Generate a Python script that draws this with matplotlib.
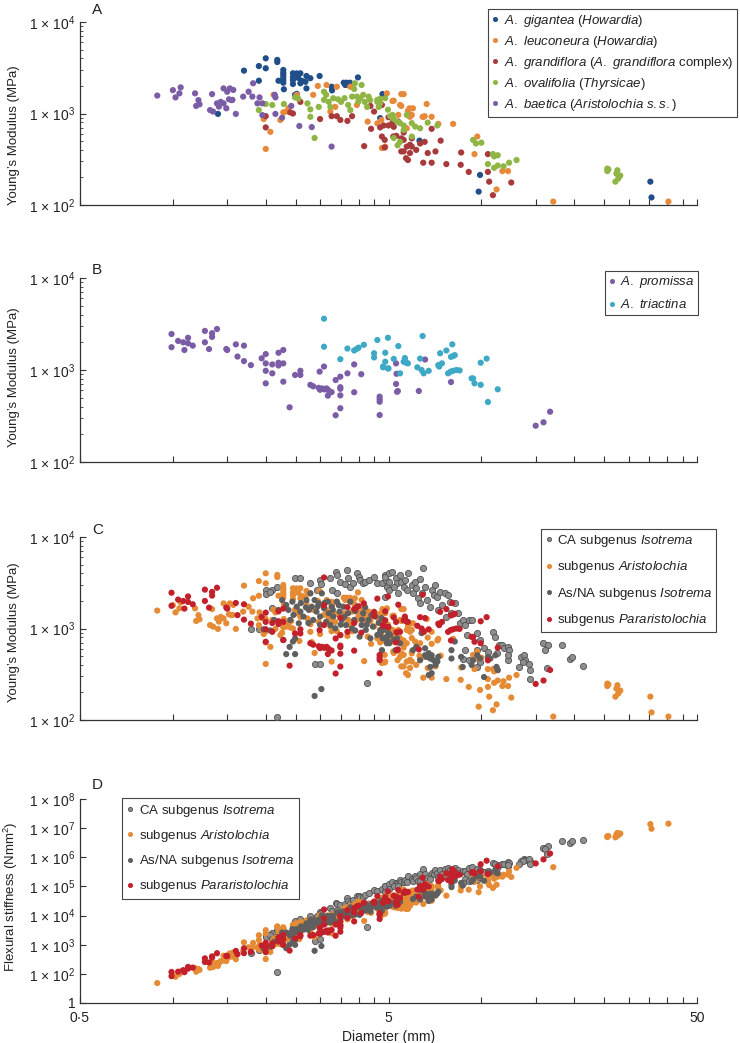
import numpy as np
import matplotlib
matplotlib.use('Agg')
import matplotlib.pyplot as plt
from matplotlib.lines import Line2D
from matplotlib.ticker import LogLocator, NullFormatter, NullLocator

plt.rcParams['font.family'] = ['Liberation Sans', 'DejaVu Sans']
plt.rcParams['mathtext.fontset'] = 'custom'
plt.rcParams['mathtext.rm'] = 'Liberation Sans'
plt.rcParams['mathtext.it'] = 'Liberation Sans:italic'

# (diameter mm, Young's modulus MPa)
gigantea = [(1.40, 990), (1.70, 2940), (1.90, 3300), (1.90, 2280), (2.0, 4010), (2.0, 3120),
            (2.18, 3850), (2.18, 3650), (2.20, 2280), (2.28, 2990), (2.28, 2790), (2.28, 2640),
            (2.28, 2480), (2.28, 2320), (2.28, 2170), (2.29, 1840), (2.45, 2750), (2.45, 2490),
            (2.45, 2320), (2.45, 2100), (2.52, 2740), (2.59, 2750), (2.59, 2140), (2.55, 2450),
            (2.62, 2270), (2.71, 2570), (2.69, 2220), (2.79, 2430), (2.71, 1880), (2.99, 2570),
            (2.49, 1600), (2.52, 1640), (3.27, 1960), (3.28, 1790), (3.58, 2170), (3.66, 2170),
            (3.75, 2170), (3.62, 2050), (3.70, 2050), (3.98, 2480), (4.78, 1630), (4.70, 890),
            (6.3, 505), (9.9, 213), (9.8, 140), (35.3, 180), (35.6, 121)]
leuconeura = [(2.0, 410), (2.07, 630), (1.97, 870), (2.12, 1600), (2.23, 850), (2.33, 1050),
              (2.37, 1140), (2.28, 1030), (2.52, 1600), (2.85, 1600), (2.95, 2000), (3.15, 2050),
              (3.40, 1960), (3.76, 1960), (3.36, 1180), (3.24, 1050), (3.95, 1240), (4.28, 815),
              (4.60, 780), (4.74, 850), (4.94, 1660), (5.15, 1370), (5.5, 1630), (5.6, 1630),
              (5.45, 1240), (5.38, 965), (5.78, 1070), (5.87, 920), (6.0, 1140), (6.5, 920),
              (6.65, 1270), (6.9, 920), (7.25, 770), (4.76, 420), (4.88, 435), (5.73, 690),
              (5.2, 1380), (5.5, 1210), (5.85, 1140), (5.8, 965), (5.95, 965), (6.45, 920),
              (6.55, 935), (8.1, 770), (9.7, 560), (9.5, 360), (11.7, 235), (12.2, 235),
              (11.2, 148), (17.1, 109), (40.4, 109)]
grandiflora = [(2.0, 705), (2.0, 935), (2.40, 1030), (2.59, 1340), (3.0, 870), (3.27, 935),
               (3.40, 935), (3.49, 850), (3.68, 830), (3.81, 935), (4.17, 440), (4.37, 1210),
               (4.49, 1050), (4.76, 1240), (4.39, 680), (4.82, 740), (4.76, 560), (4.86, 515),
               (4.86, 425), (5.0, 740), (5.2, 715), (5.38, 815), (5.6, 620), (5.6, 515),
               (5.6, 385), (5.78, 310), (5.87, 455), (5.95, 435), (6.15, 400), (5.95, 535),
               (6.48, 290), (6.9, 290), (7.7, 280), (7.38, 505), (7.1, 385), (6.9, 680),
               (6.55, 490), (4.7, 705), (5.0, 910), (5.15, 795), (5.18, 560), (5.3, 570),
               (5.5, 535), (5.73, 435), (6.33, 470), (5.87, 370), (8.6, 375), (8.57, 275),
               (9.1, 230), (10.5, 360), (10.5, 230), (10.6, 180), (10.9, 128), (12.5, 176),
               (5.70, 325), (5.5, 385), (6.7, 370), (2.45, 1000)]
ovalifolia = [(1.90, 1090), (2.0, 1270), (2.1, 1240), (2.29, 1270), (2.49, 1500), (2.55, 1450),
              (2.73, 1290), (2.79, 1110), (2.79, 920), (2.88, 540), (2.97, 1180), (3.09, 1730),
              (3.14, 1600), (3.2, 1340), (3.09, 1410), (3.24, 1180), (3.31, 1470), (3.43, 1430),
              (3.51, 1340), (3.6, 1470), (3.7, 1240), (3.76, 1090), (3.81, 1530), (3.89, 2140),
              (3.87, 1850), (3.95, 1530), (3.99, 1340), (4.05, 1470), (4.09, 2050), (4.14, 1600),
              (4.19, 1340), (4.26, 1180), (4.31, 1530), (4.36, 1400), (4.6, 1340), (4.65, 1180),
              (4.7, 1450), (4.88, 1470), (4.98, 1100), (5.06, 935), (5.2, 870), (5.33, 815),
              (5.45, 785), (5.6, 660), (5.73, 965), (5.95, 785), (6.1, 720), (5.2, 540),
              (5.45, 490), (5.35, 450), (5.95, 560), (6.33, 690), (6.7, 795), (7.2, 740),
              (4.6, 1410), (4.7, 1300), (5.15, 965), (5.6, 740), (9.4, 515), (9.6, 470),
              (10.0, 480), (10.5, 280), (10.9, 360), (11.0, 340), (11.3, 350), (11.0, 255),
              (11.3, 270), (11.8, 265), (12.3, 290), (13.0, 310), (25.6, 250), (25.6, 235),
              (25.8, 245), (27.6, 240), (27.4, 220), (28.2, 210), (27.8, 195), (27.2, 180)]
baetica = [(0.89, 1570), (1.0, 1800), (1.02, 1500), (1.06, 1930), (1.05, 1660), (1.18, 1660),
           (1.21, 1400), (1.19, 1210), (1.22, 1260), (1.34, 1630), (1.32, 1090), (1.35, 1050),
           (1.39, 1290), (1.41, 1190), (1.43, 1340), (1.46, 1880), (1.50, 1730), (1.57, 1810),
           (1.46, 1290), (1.49, 1140), (1.52, 1430), (1.55, 1400), (1.60, 990), (1.53, 1880),
           (1.56, 1410), (1.69, 1530), (1.76, 1730), (1.82, 2140), (1.81, 1530), (1.88, 1290),
           (1.91, 1500), (1.95, 1290), (1.95, 960), (2.14, 1600), (2.15, 1500), (2.15, 990),
           (2.26, 900), (2.42, 1210), (2.57, 730), (2.82, 710), (3.27, 435)]
promissa = [(0.99, 2460), (0.99, 1770), (1.04, 2070), (1.08, 2000), (1.09, 1650), (1.12, 2240),
            (1.12, 1950), (1.16, 1840), (1.27, 2660), (1.27, 2000), (1.34, 2510), (1.34, 2290),
            (1.31, 1690), (1.39, 2790), (1.49, 1690), (1.50, 1650), (1.60, 1900), (1.70, 1840),
            (1.62, 1400), (1.70, 1250), (1.79, 1130), (1.94, 1340), (2.0, 1490), (2.0, 1180),
            (2.0, 980), (2.0, 716), (2.1, 1150), (2.1, 920), (2.2, 1540), (2.2, 1200),
            (2.2, 1120), (2.28, 1650), (2.28, 1180), (2.28, 747), (2.39, 393), (2.49, 883),
            (2.59, 980), (2.59, 883), (2.79, 690), (2.85, 665), (2.97, 640), (3.0, 610),
            (3.05, 630), (3.1, 615), (3.15, 630), (3.19, 605), (3.27, 575), (3.09, 1090),
            (2.99, 960), (3.18, 526), (3.37, 778), (3.49, 846), (3.49, 650), (3.49, 625),
            (3.49, 530), (3.49, 384), (3.37, 322), (3.68, 920), (3.87, 1150), (3.87, 573),
            (4.08, 900), (4.68, 513), (4.68, 480), (4.68, 452), (4.68, 324), (5.29, 1180),
            (5.29, 705), (5.33, 580), (5.36, 590), (5.31, 910), (6.27, 591), (6.57, 1300),
            (7.97, 740), (15.0, 248), (15.9, 270), (16.7, 352)]
triactina = [(3.09, 3610), (3.09, 1790), (3.49, 1310), (3.68, 1710), (3.87, 1630), (3.95, 1700),
             (4.0, 1750), (4.16, 1880), (4.49, 1520), (4.49, 1370), (4.6, 2120), (4.8, 1070),
             (4.88, 1540), (4.88, 1230), (4.98, 2240), (4.98, 1040), (5.2, 1320), (5.38, 1820),
             (5.45, 920), (5.6, 1230), (5.66, 1260), (5.7, 1200), (5.78, 1180), (5.65, 1350),
             (6.2, 1070), (6.33, 1330), (6.4, 1000), (6.45, 2340), (6.5, 920), (6.75, 980),
             (7.25, 1130), (7.3, 1090), (7.45, 1180), (7.35, 1520), (7.7, 1630), (8.05, 1900),
             (7.97, 1390), (8.1, 1420), (8.2, 1450), (7.8, 920), (7.95, 960), (8.1, 980),
             (8.3, 1000), (8.5, 990), (9.3, 810), (9.4, 810), (9.5, 716), (9.95, 690),
             (9.95, 1200), (10.4, 1330), (10.5, 449), (11.3, 617), (4.8, 1090), (5.0, 1040)]
isotrema_ca = [(2.49, 3590), (2.59, 3530), (2.0, 2640), (2.0, 2390), (2.1, 2640), (2.06, 2500),
               (2.17, 2860), (2.79, 3170), (2.99, 3390), (3.02, 3060), (2.93, 2640), (3.22, 3530),
               (3.27, 2640), (3.37, 4170), (3.40, 3850), (3.40, 2420), (3.49, 3250), (3.62, 3060),
               (3.68, 4360), (3.70, 3530), (3.76, 2860), (3.85, 3120), (3.95, 4010), (4.0, 3690),
               (4.05, 3390), (4.13, 3120), (4.19, 3250), (4.31, 3390), (4.49, 3690), (4.6, 3120),
               (4.76, 3120), (4.88, 3850), (4.92, 3390), (4.96, 2860), (5.03, 3250), (1.79, 1000),
               (1.9, 1000), (2.09, 1660), (2.88, 405), (3.0, 405), (2.18, 107), (4.26, 251),
               (4.88, 3690), (5.0, 4010), (5.15, 4170), (5.27, 3530), (5.33, 3120), (5.45, 3850),
               (5.5, 3250), (5.6, 2860), (5.65, 3390), (5.73, 2640), (5.8, 4010), (5.95, 2990),
               (6.0, 2420), (6.1, 3250), (6.15, 2750), (6.24, 2140), (6.33, 3440), (6.4, 2420),
               (6.48, 4550), (6.33, 1885), (6.57, 2860), (6.65, 2045), (6.83, 1730), (6.9, 2640),
               (7.0, 2320), (7.1, 2990), (7.2, 2225), (7.25, 1595), (7.35, 2530), (7.45, 1807),
               (7.6, 2420), (7.8, 2320), (7.7, 1350), (7.9, 1965), (8.0, 1470), (8.2, 1885),
               (8.4, 1470), (8.5, 1140), (8.7, 1240), (8.85, 1090), (9.1, 1240), (9.3, 1240),
               (9.0, 850), (9.7, 890), (9.9, 750), (10.2, 608), (10.5, 560), (10.9, 920),
               (11.1, 815), (11.2, 537), (11.4, 660), (11.7, 660), (11.8, 608), (12.2, 630),
               (12.3, 580), (9.7, 380), (9.9, 435), (8.85, 580), (8.7, 470), (9.1, 450),
               (13.4, 490), (13.7, 510), (13.8, 450), (13.6, 435), (14.4, 352), (13.2, 380),
               (15.9, 690), (16.5, 660), (16.1, 580), (16.3, 366), (18.3, 660), (4.88, 2225),
               (5.0, 2640), (5.2, 2860), (5.38, 2420), (19.4, 460), (19.6, 490), (21.3, 390),
               (14.3, 410), (14.4, 279), (12.2, 450), (12.2, 510), (9.7, 580)]
isotrema_asna = [(2.26, 2045), (2.33, 1807), (2.37, 1595), (2.44, 1965), (2.40, 1240), (2.46, 1406),
                 (2.52, 1730), (2.56, 1140), (2.59, 1530), (2.65, 1350), (2.71, 2045), (2.76, 1595),
                 (2.79, 2420), (2.82, 1730), (2.85, 1240), (2.88, 2045), (2.92, 1530), (2.97, 1885),
                 (3.0, 1350), (3.04, 2420), (3.09, 1665), (3.14, 1185), (3.18, 1965), (3.2, 1470),
                 (3.24, 1090), (3.27, 1730), (3.31, 1350), (3.36, 1005), (3.40, 1965), (3.47, 1530),
                 (3.53, 1240), (3.57, 1730), (3.64, 1090), (3.70, 1470), (3.76, 1965), (3.81, 1005),
                 (3.87, 1240), (3.95, 1730), (4.03, 815), (4.09, 1090), (4.14, 1470), (4.22, 965),
                 (4.31, 1240), (4.37, 782), (4.45, 1050), (4.53, 1350), (4.6, 850), (4.7, 965),
                 (4.79, 782), (4.88, 1050), (4.94, 750), (5.0, 890), (5.03, 690), (2.13, 1240),
                 (2.2, 1595), (2.07, 950), (1.97, 980), (2.28, 750), (2.49, 780), (2.39, 630),
                 (2.49, 525), (2.33, 525), (2.88, 183), (3.03, 218), (2.45, 720),
                 (4.7, 890), (4.82, 965), (4.94, 815), (5.06, 850), (4.94, 690), (5.2, 750),
                 (5.33, 780), (5.45, 690), (5.27, 580), (4.76, 580), (6.0, 580), (6.15, 630),
                 (6.33, 450), (6.57, 510), (6.65, 490), (6.75, 537), (6.83, 470), (6.9, 510),
                 (7.0, 450), (6.83, 380), (6.9, 325), (7.1, 400), (7.2, 435), (7.25, 490),
                 (6.75, 310), (6.57, 608), (8.0, 470), (8.6, 490), (8.7, 380), (9.3, 400),
                 (9.4, 450), (9.7, 510), (9.9, 470), (10.2, 295), (10.5, 490), (10.7, 470),
                 (11.1, 510), (11.2, 380), (11.3, 352), (8.2, 720), (8.0, 580), (6.4, 890),
                 (2.6, 1900), (2.7, 1700), (2.95, 1750), (3.1, 1900), (3.3, 1600), (3.45, 1800),
                 (3.6, 1350), (3.9, 1550), (4.1, 1250), (4.2, 1700), (4.4, 1400), (4.65, 1150),
                 (4.75, 1300), (3.0, 1100), (2.75, 1150), (3.5, 1100), (3.9, 950), (4.25, 1100)]

# subgenus groupings for panels C and D
aristolochia = gigantea + leuconeura + grandiflora + ovalifolia + baetica
pararistolochia = promissa + triactina

col_gig = '#1f4e89'
col_leu = '#e8893a'
col_gra = '#a83a3c'
col_ova = '#8fb544'
col_bae = '#7b5ca6'
col_tri = '#3da9c7'
col_ca = '#8e8e8e'
col_asna = '#5f5f5f'
col_ari = '#e58b35'
col_par = '#c2202b'

W, H = 740, 1043
xtick_pos = [0.5, 1, 1.5, 2, 2.5, 3, 3.5, 4, 4.5, 5, 10, 15, 20, 25, 30, 35, 40, 45, 50]


def px_axes(top, bottom):
    return [80 / W, 1 - bottom / H, 617 / W, (bottom - top) / H]


def style(ax, ylim, yticks, ylabels, minor=True, xlabels=False):
    ax.set_xscale('log')
    ax.set_yscale('log')
    ax.set_xlim(0.5, 50)
    ax.set_ylim(*ylim)
    for s in ['top', 'right']:
        ax.spines[s].set_visible(False)
    for s in ['left', 'bottom']:
        ax.spines[s].set_color('#333333')
        ax.spines[s].set_linewidth(0.9)
    labs = ['0·5' if t == 0.5 else ('5' if t == 5 else ('50' if t == 50 else '')) for t in xtick_pos]
    ax.set_xticks(xtick_pos)
    ax.set_xticklabels(labs if xlabels else [''] * len(xtick_pos))
    ax.xaxis.set_minor_locator(NullLocator())
    ax.set_yticks(yticks)
    ax.set_yticklabels(ylabels)
    if minor:
        ax.yaxis.set_minor_locator(LogLocator(base=10, subs=np.arange(2, 10)))
        ax.yaxis.set_minor_formatter(NullFormatter())
    else:
        ax.yaxis.set_minor_locator(NullLocator())
    ax.tick_params(which='major', direction='in', length=4, width=0.8, color='#333333',
                   labelsize=10, labelcolor='#222222', pad=3.5)
    ax.tick_params(which='minor', direction='in', length=2.5, width=0.6, color='#333333')


def dots(ax, pts, color, edge='none', flex=False):
    d = np.array([p[0] for p in pts])
    e = np.array([p[1] for p in pts])
    y = e * np.pi * d ** 4 / 64 if flex else e   # flexural stiffness EI = E * pi d^4 / 64
    ax.scatter(d, y, s=20, c=color, edgecolors=edge, linewidths=0.6, clip_on=False, zorder=3)


def handle(color, edge=None):
    return Line2D([], [], marker='o', linestyle='', markersize=3.0, markerfacecolor=color,
                  markeredgecolor=edge if edge else color, markeredgewidth=0.6)


def legend(ax, handles, labels, anchor, loc, spacing, pad):
    lg = ax.legend(handles, labels, loc=loc, bbox_to_anchor=anchor, bbox_transform=fig.transFigure,
                   fontsize=9.5, labelspacing=spacing, borderpad=pad, handlelength=0.55,
                   handletextpad=0.35, borderaxespad=0, fancybox=False, framealpha=1)
    lg.get_frame().set_edgecolor('#444444')
    lg.get_frame().set_linewidth(0.8)
    for t in lg.get_texts():
        t.set_color('#222222')


fig = plt.figure(figsize=(W / 100, H / 100), dpi=100)

e_ticks = [100, 1000, 10000]
e_labels = ['1 × 10$^{2}$', '1 × 10$^{3}$', '1 × 10$^{4}$']

# Panel A
axA = fig.add_axes(px_axes(22, 205))
style(axA, (100, 10000), e_ticks, e_labels)
dots(axA, gigantea, col_gig)
dots(axA, leuconeura, col_leu)
dots(axA, grandiflora, col_gra)
dots(axA, ovalifolia, col_ova)
dots(axA, baetica, col_bae)
axA.set_ylabel('Young’s Modulus (MPa)', fontsize=9.5, color='#222222')
axA.yaxis.set_label_coords(-0.097, 0.38)
legend(axA, [handle(col_gig), handle(col_leu), handle(col_gra), handle(col_ova), handle(col_bae)],
       [r'$\mathit{A.\ gigantea}$ ($\mathit{Howardia}$)',
        r'$\mathit{A.\ leuconeura}$ ($\mathit{Howardia}$)',
        r'$\mathit{A.\ grandiflora}$ ($\mathit{A.\ grandiflora}$ complex)',
        r'$\mathit{A.\ ovalifolia}$ ($\mathit{Thyrsicae}$)',
        r'$\mathit{A.\ baetica}$ ($\mathit{Aristolochia\ s.s.}$)'],
       (737 / W, 1 - 9 / H), 'upper right', 0.38, 0.3)

# Panel B
axB = fig.add_axes(px_axes(278, 462))
style(axB, (100, 10000), e_ticks, e_labels)
dots(axB, promissa, col_bae)
dots(axB, triactina, col_tri)
axB.set_ylabel('Young’s Modulus (MPa)', fontsize=9.5, color='#222222')
axB.yaxis.set_label_coords(-0.097, 0.46)
legend(axB, [handle(col_bae), handle(col_tri)],
       [r'$\mathit{A.\ promissa}$', r'$\mathit{A.\ triactina}$'],
       (698 / W, 1 - 271 / H), 'upper right', 0.6, 0.25)

group_labels = [r'CA subgenus $\mathit{Isotrema}$', r'subgenus $\mathit{Aristolochia}$',
                r'As/NA subgenus $\mathit{Isotrema}$', r'subgenus $\mathit{Pararistolochia}$']
group_handles = [handle(col_ca, '#505050'), handle(col_ari), handle(col_asna), handle(col_par)]

# Panel C
axC = fig.add_axes(px_axes(537, 720))
style(axC, (100, 10000), e_ticks, e_labels)
dots(axC, isotrema_ca, col_ca, edge='#505050')
dots(axC, aristolochia, col_ari)
dots(axC, isotrema_asna, col_asna)
dots(axC, pararistolochia, col_par)
axC.set_ylabel('Young’s Modulus (MPa)', fontsize=9.5, color='#222222')
axC.yaxis.set_label_coords(-0.097, 0.48)
legend(axC, group_handles, group_labels, (716 / W, 1 - 529 / H), 'upper right', 0.8, 0.28)

# Panel D
axD = fig.add_axes(px_axes(799, 1003))
ei_ticks = [10 ** k for k in range(1, 9)]
ei_labels = ['1'] + ['1 × 10$^{%d}$' % k for k in range(2, 9)]
style(axD, (10, 1e8), ei_ticks, ei_labels, minor=False, xlabels=True)
dots(axD, isotrema_ca, col_ca, edge='#505050', flex=True)
dots(axD, aristolochia, col_ari, flex=True)
dots(axD, isotrema_asna, col_asna, flex=True)
dots(axD, pararistolochia, col_par, flex=True)
axD.set_ylabel('Flexural stiffness (Nmm$^{2}$)', fontsize=9.5, color='#222222')
axD.yaxis.set_label_coords(-0.097, 0.52)
axD.set_xlabel('Diameter (mm)', fontsize=10, color='#222222', labelpad=4)
axD.tick_params(axis='x', pad=5.5)
legend(axD, group_handles, group_labels, (122 / W, 1 - 798 / H), 'upper left', 0.7, 0.36)

for letter, ypx in [('A', 10), ('B', 270), ('C', 530), ('D', 785)]:
    fig.text(92 / W, 1 - ypx / H, letter, fontsize=11, color='#222222', ha='left', va='center')

fig.savefig('out.png', dpi=100)
